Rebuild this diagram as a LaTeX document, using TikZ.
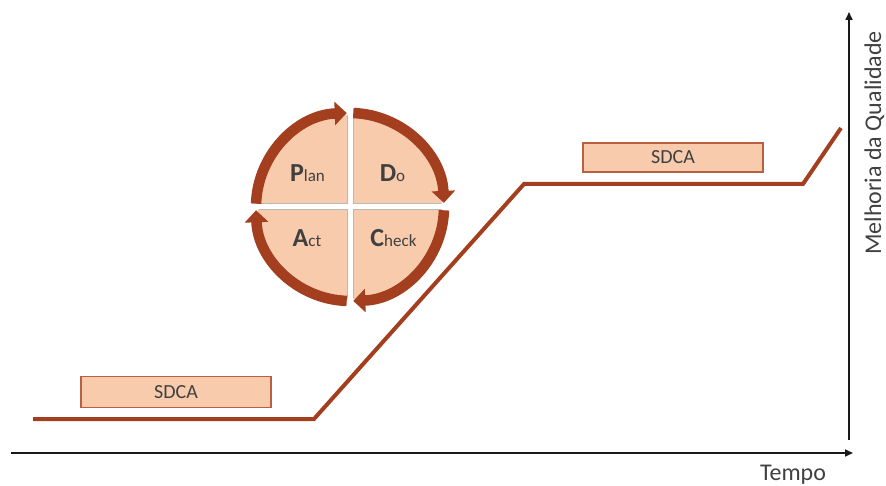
\documentclass[tikz,border=0pt]{standalone}
\usepackage{fontspec}
\setmainfont{Carlito}
\usetikzlibrary{arrows.meta,calc}
\definecolor{rust}{RGB}{163,62,30}
\definecolor{peach}{RGB}{248,203,173}
\definecolor{ink}{RGB}{64,64,64}
\begin{document}
\begin{tikzpicture}[x=1pt,y=-1pt,
  axis/.style={line width=1.6pt, draw=black!90, -{Triangle[length=8pt,width=7pt]}},
  trend/.style={line width=4pt, draw=rust},
  sdcabox/.style={draw=rust!75!peach, line width=1.1pt, fill=peach, text=ink,
    font=\fontsize{20}{22}\selectfont, inner sep=0pt},
  ring/.style={line width=10.5pt, draw=rust, -{Triangle[length=12pt,width=23pt]}},
  axislabel/.style={text=ink, font=\fontsize{24}{26}\selectfont, inner sep=0pt, anchor=base},
  quadlabel/.style={text=ink, inner sep=0pt, anchor=base},
]
\useasboundingbox (0,0) rectangle (886,486);

% axes
\coordinate (h0) at (11,453);
\coordinate (h1) at (853,453);
\coordinate (v0) at (849,440);
\coordinate (v1) at (849,12);
\draw[axis] (h0) -- (h1);
\draw[axis] (v0) -- (v1);
\node[axislabel] (tempo) at (793,480) {Tempo};
\node[axislabel, rotate=90] (melhoria) at (881,143) {Melhoria da Qualidade};

% quality trend
\coordinate (t0) at (33,419);
\coordinate (t1) at (314,419);
\coordinate (t2) at (524,184);
\coordinate (t3) at (803,184);
\coordinate (t4) at (841,128);
\draw[trend] (t0) -- (t1) -- (t2) -- (t3) -- (t4);

% SDCA boxes
\node[sdcabox, minimum width=190pt, minimum height=31pt] (sdcaA) at (176,392) {SDCA};
\node[sdcabox, minimum width=180pt, minimum height=29pt] (sdcaB) at (673,157.5) {SDCA};

% PDCA wheel
\coordinate (c) at (350,207);
\fill[peach] (c) circle[radius=92];
\draw[line width=7pt, draw=black!28] ($(c)+(-91,0)$) -- ($(c)+(91,0)$);
\draw[line width=7pt, draw=black!28] ($(c)+(0,-91)$) -- ($(c)+(0,91)$);
\draw[line width=5pt, draw=white] ($(c)+(-93,0)$) -- ($(c)+(93,0)$);
\draw[line width=5pt, draw=white] ($(c)+(0,-93)$) -- ($(c)+(0,93)$);

% wheel arrows (y axis points down, so growing angles turn clockwise)
\draw[ring] ($(c)+(-178:94)$) arc[start angle=-178, end angle=-92, radius=94];
\draw[ring] ($(c)+(-88:94)$) arc[start angle=-88, end angle=-2.5, radius=94];
\draw[ring] ($(c)+(2:94)$) arc[start angle=2, end angle=88, radius=94];
\draw[ring] ($(c)+(92:94)$) arc[start angle=92, end angle=178, radius=94];

% quadrant labels
\node[quadlabel] (plan) at (307.5,182)
  {{\fontsize{26}{26}\selectfont\bfseries P}{\fontsize{17}{17}\selectfont lan}};
\node[quadlabel] (do) at (392.5,182)
  {{\fontsize{26}{26}\selectfont\bfseries D}{\fontsize{17}{17}\selectfont o}};
\node[quadlabel] (act) at (307,247)
  {{\fontsize{26}{26}\selectfont\bfseries A}{\fontsize{17}{17}\selectfont ct}};
\node[quadlabel] (check) at (393.5,246.5)
  {{\fontsize{26}{26}\selectfont\bfseries C}{\fontsize{17}{17}\selectfont heck}};
\end{tikzpicture}
\end{document}
